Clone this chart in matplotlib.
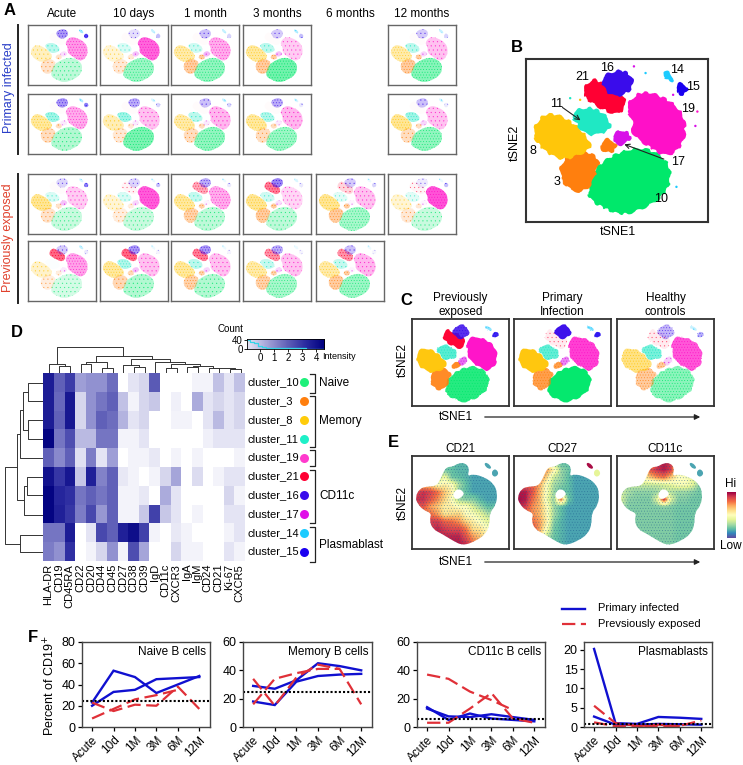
import numpy as np
import matplotlib
matplotlib.use('Agg')
import matplotlib.pyplot as plt
from matplotlib.colors import LinearSegmentedColormap, to_rgb
from matplotlib.patches import PathPatch
from matplotlib.path import Path

plt.rcParams['font.family'] = ['Liberation Sans', 'DejaVu Sans']
plt.rcParams['font.size'] = 8
plt.rcParams['hatch.linewidth'] = 0.3

W, H = 743, 765

# tSNE map (cluster outlines)
cluster_ids = ['10', '3', '8', '11', '19', '21', '16', '17', '14', '15']
cluster_colors = ['#00E86B', '#FF7F0E', '#FFC60A', '#1FE8C4', '#FF10C8',
                  '#FF0033', '#3A0CEB', '#D810E8', '#1CCBFF', '#1A00F0']
outlines = {
    '10': [(352, 475), (372, 415), (420, 380), (470, 358), (530, 352), (595, 390), (606, 445),
           (585, 495), (530, 532), (455, 558), (395, 530), (358, 510)],
    '3': [(265, 425), (280, 385), (330, 355), (392, 385), (380, 420), (365, 465), (330, 490), (285, 472)],
    '3b': [(385, 345), (415, 320), (445, 345), (428, 370), (398, 365)],
    '8': [(185, 305), (210, 258), (250, 248), (305, 275), (345, 310), (368, 352), (335, 372),
          (280, 392), (232, 372), (200, 340)],
    '11': [(298, 248), (355, 228), (405, 250), (428, 292), (398, 312), (350, 318), (320, 285)],
    '19': [(462, 232), (510, 180), (575, 198), (628, 232), (650, 280), (642, 345), (592, 385),
           (535, 350), (482, 312), (490, 270)],
    '21': [(332, 188), (365, 142), (395, 160), (445, 180), (475, 220), (445, 258), (400, 240), (355, 215)],
    '16': [(390, 145), (430, 122), (470, 122), (495, 155), (475, 192), (430, 202), (402, 178)],
    '17': [(420, 322), (450, 298), (475, 305), (488, 328), (445, 352)],
    '14': [(572, 130), (590, 120), (620, 150), (598, 158)],
    '15': [(612, 178), (635, 152), (660, 178), (635, 202)],
}
silhouette = [(185, 305), (210, 258), (250, 248), (305, 245), (330, 205), (345, 170), (365, 145),
              (395, 145), (430, 125), (470, 125), (492, 155), (480, 195), (510, 182), (575, 198),
              (628, 232), (650, 280), (642, 345), (605, 385), (606, 445), (585, 495), (530, 532),
              (455, 558), (395, 530), (335, 495), (285, 472), (265, 425), (278, 388), (232, 372),
              (200, 340)]
centre_gap = [(405, 275), (430, 258), (462, 278), (455, 298), (420, 318), (398, 300)]
stray_x = [683, 677, 492, 527, 610, 330, 300, 620]
stray_y = [245, 288, 110, 130, 195, 210, 205, 470]
stray_c = ['#FF10C8', '#D810E8', '#D810E8', '#1CCBFF', '#D810E8', '#FFC60A', '#1FE8C4', '#1CCBFF']

# panel A, how dense each cluster looks in each small map (order of cluster_ids)
a_col_titles = ['Acute', '10 days', '1 month', '3 months', '6 months', '12 months']
a_abundance = {
    (0, 0): [.30, .25, .30, .35, .50, .02, .50, .15, .50, .90],
    (0, 1): [.45, .20, .20, .20, .75, .02, .15, .30, .30, .30],
    (0, 2): [.50, .45, .40, .25, .40, .02, .30, .35, .30, .20],
    (0, 3): [.65, .45, .45, .35, .25, .02, .25, .30, .40, .30],
    (0, 5): [.55, .45, .40, .35, .30, .02, .25, .20, .30, .20],
    (1, 0): [.35, .30, .45, .50, .40, .02, .50, .10, .40, .60],
    (1, 1): [.60, .20, .35, .50, .30, .02, .40, .10, .20, .20],
    (1, 2): [.50, .30, .40, .35, .35, .02, .30, .10, .30, .20],
    (1, 3): [.45, .30, .45, .40, .35, .02, .40, .10, .20, .10],
    (1, 5): [.50, .30, .50, .50, .30, .02, .30, .20, .20, .10],
    (2, 0): [.25, .25, .50, .20, .25, .02, .20, .30, .20, .60],
    (2, 1): [.25, .15, .20, .20, .80, .05, .20, .20, .10, .30],
    (2, 2): [.30, .40, .45, .30, .40, .40, .40, .05, .10, .10],
    (2, 3): [.30, .45, .50, .25, .20, .60, .60, .15, .20, .10],
    (2, 4): [.40, .45, .50, .15, .30, .20, .25, .05, .10, .20],
    (2, 5): [.25, .20, .20, .15, .85, .05, .10, .05, .10, .30],
    (3, 0): [.20, .15, .25, .02, .45, .70, .25, .10, .30, .10],
    (3, 1): [.35, .35, .45, .40, .30, .70, .50, .30, .10, .05],
    (3, 2): [.35, .40, .45, .35, .30, .60, .50, .20, .10, .05],
    (3, 3): [.40, .40, .40, .30, .30, .50, .40, .20, .10, .05],
    (3, 4): [.45, .45, .40, .30, .35, .50, .30, .05, .10, .05],
}
c_titles = ['Previously\nexposed', 'Primary\nInfection', 'Healthy\ncontrols']
c_abundance = [[.85, .90, .98, .75, .98, .98, .85, .60, .50, .85],
               [.98, .75, .98, .70, .80, .08, .98, .50, .60, .90],
               [.45, .40, .50, .60, .70, .08, .30, .20, .25, .30]]

# panel D
markers = ['HLA-DR', 'CD19', 'CD45RA', 'CD22', 'CD20', 'CD44', 'CD45', 'CD27', 'CD38', 'CD39',
           'IgD', 'CD11c', 'CXCR3', 'IgA', 'IgM', 'CD24', 'CD21', 'Ki-67', 'CXCR5']
heat_rows = ['cluster_10', 'cluster_3', 'cluster_8', 'cluster_11', 'cluster_19',
             'cluster_21', 'cluster_16', 'cluster_17', 'cluster_14', 'cluster_15']
heat_dots = ['#1EF07A', '#FF7F0E', '#FFCC0A', '#1EF0C8', '#FF3ACD',
             '#FF0033', '#3A0CEB', '#E010E8', '#1CCBFF', '#1A00F0']
heat_vals = np.array([
    [3.9, 2.7, 3.3, 1.8, 2.0, 2.0, 2.5, 0, 0.7, 1.0, 2.8, 0, 0, 0, 0.3, 0.3, 1.3, 0.7, 1.3],
    [3.9, 2.6, 4.0, 1.0, 2.0, 2.4, 2.7, 1.3, 0.3, 1.0, 1.2, 0, 0.4, 0, 1.6, 0.7, 1.0, 0.7, 1.0],
    [3.9, 2.7, 4.0, 1.0, 2.0, 2.7, 2.5, 1.5, 0.7, 1.0, 0, 0, 0.3, 0.3, 0, 0.7, 1.4, 0.7, 1.0],
    [4.4, 2.4, 3.0, 1.4, 1.4, 2.4, 2.4, 0.3, 0.3, 0.7, 0, 0, 0, 0, 0, 0.4, 0.7, 0.7, 0.7],
    [2.7, 2.1, 2.7, 0.8, 2.3, 0.7, 1.8, 0, 0.3, 0.3, 0.6, 0, 0.3, 0, 0.3, 0, 0, 0, 0.3],
    [4.1, 3.4, 4.0, 1.2, 3.8, 2.2, 2.7, 0.6, 0.3, 0, 0.3, 1.0, 1.7, 0, 0.9, 0, 0.3, 0.7, 0.7],
    [4.4, 3.7, 3.5, 2.4, 2.7, 2.4, 2.7, 0.3, 0.3, 0.6, 0, 1.6, 0.7, 0, 0, 0, 0, 1.0, 0.3],
    [4.4, 3.8, 3.4, 2.3, 3.1, 1.9, 2.7, 0.3, 0.3, 1.2, 3.2, 1.2, 0.7, 0, 0.3, 0, 0, 0.7, 0.7],
    [2.4, 2.4, 3.9, 0, 0.7, 3.1, 2.7, 3.8, 4.2, 3.2, 0.3, 0, 0.6, 0.3, 0, 0, 0, 0.3, 0.7],
    [2.3, 2.0, 3.5, 0, 0.3, 1.0, 2.0, 0.3, 3.0, 1.7, 0, 0, 1.0, 0.3, 0.3, 0, 0, 0.7, 0.3],
])
key_x = [-0.9, -0.6, -0.3, 0, 0.3, 0.6, 1, 1.5, 2, 2.5, 3, 3.5, 4, 4.5]
key_count = [40, 30, 25, 15, 8, 5, 4, 3, 3, 5, 3, 2, 1, 0]
# dendrogram links, (xs, ys)
top_links = [
    ([178, 178, 210, 210], [158, 140, 140, 158]), ([146, 146, 194, 194], [158, 133, 133, 140]),
    ([242, 242, 274, 274], [158, 133, 133, 158]), ([306, 306, 338, 338], [158, 145, 145, 158]),
    ([258, 258, 322, 322], [133, 127, 127, 145]), ([170, 170, 370, 370], [133, 80, 80, 107]),
    ([289, 289, 455, 455], [127, 107, 107, 118]), ([402, 402, 434, 434], [158, 143, 143, 158]),
    ([370, 370, 418, 418], [158, 135, 135, 143]), ([392, 392, 510, 510], [135, 118, 118, 127]),
    ([466, 466, 555, 555], [158, 127, 127, 133]), ([498, 498, 530, 530], [158, 145, 145, 158]),
    ([514, 514, 600, 600], [145, 133, 133, 140]), ([562, 562, 594, 594], [158, 142, 142, 158]),
    ([578, 578, 640, 640], [142, 140, 140, 144]), ([626, 626, 658, 658], [158, 146, 146, 158]),
    ([642, 642, 706, 706], [146, 144, 144, 149]), ([690, 690, 722, 722], [158, 149, 149, 158]),
]
left_links = [
    ([130, 85, 85, 130], [189, 189, 245, 245]), ([130, 85, 85, 130], [300, 300, 358, 358]),
    ([85, 70, 70, 85], [217, 217, 330, 330]), ([70, 60, 60, 130], [272, 272, 413, 413]),
    ([130, 82, 82, 130], [470, 470, 526, 526]), ([82, 72, 72, 130], [498, 498, 583, 583]),
    ([60, 50, 50, 72], [342, 342, 540, 540]), ([130, 60, 60, 130], [645, 645, 695, 695]),
    ([50, 14, 14, 60], [441, 441, 670, 670]),
]
bracket_labels = ['Naive', 'Memory', '', 'CD11c', 'Plasmablast']
bracket_spans = [(162, 218), (228, 380), (390, 438), (450, 608), (622, 725)]

# panel E, marker level on a coarse grid over the map (0 low, 1 high)
grid_x = [190, 230, 270, 310, 350, 390, 430, 470, 510, 550, 590, 630]
grid_y = [130, 168, 206, 244, 282, 320, 358, 396, 434, 472, 510, 548]
cd21_grid = np.array([
    [.20, .20, .20, .20, .22, .20, .18, .18, .15, .15, .15, .15],
    [.30, .30, .30, .30, .22, .20, .18, .18, .15, .15, .15, .15],
    [.50, .50, .45, .30, .45, .22, .20, .18, .15, .15, .15, .15],
    [.65, .65, .62, .50, .55, .50, .30, .20, .15, .15, .15, .15],
    [.88, .92, .88, .80, .65, .55, .25, .20, .15, .15, .15, .15],
    [.92, .92, .85, .75, .62, .50, .30, .25, .25, .18, .15, .15],
    [.85, .85, .72, .65, .55, .55, .50, .50, .38, .28, .20, .20],
    [.60, .75, .80, .72, .58, .60, .62, .50, .48, .42, .32, .28],
    [.60, .78, .90, .90, .82, .80, .74, .62, .55, .48, .42, .36],
    [.70, .82, .90, .94, .90, .87, .87, .78, .60, .58, .50, .45],
    [.70, .82, .90, .94, .94, .94, .94, .85, .72, .65, .55, .45],
    [.80, .82, .90, .94, .94, .96, .96, .92, .80, .70, .55, .45],
])
cd27_grid = np.array([
    [.20, .20, .20, .20, .55, .30, .20, .20, .15, .15, .15, .15],
    [.60, .60, .60, .65, .72, .55, .28, .22, .15, .15, .15, .15],
    [.70, .70, .72, .78, .62, .35, .28, .20, .15, .15, .15, .15],
    [.80, .82, .82, .70, .48, .30, .25, .20, .15, .15, .15, .15],
    [.96, .96, .85, .68, .48, .28, .20, .20, .15, .15, .15, .15],
    [.98, .96, .80, .68, .45, .28, .80, .22, .15, .15, .15, .15],
    [.96, .90, .75, .68, .52, .28, .20, .15, .15, .15, .15, .15],
    [.70, .80, .75, .68, .52, .30, .20, .15, .15, .15, .15, .15],
    [.60, .70, .80, .72, .55, .25, .18, .15, .15, .15, .15, .15],
    [.60, .70, .85, .72, .48, .22, .18, .15, .15, .15, .15, .15],
    [.60, .70, .92, .65, .35, .22, .18, .15, .15, .15, .15, .15],
    [.20, .20, .20, .20, .20, .20, .18, .15, .15, .15, .15, .15],
])
cd11c_grid = np.array([
    [.25, .25, .25, .25, .60, .90, .96, .90, .30, .22, .22, .22],
    [.30, .30, .30, .40, .85, .92, .96, .90, .50, .28, .22, .22],
    [.30, .30, .30, .50, .65, .75, .80, .65, .50, .50, .42, .25],
    [.32, .32, .36, .36, .36, .36, .38, .42, .48, .48, .42, .25],
    [.36, .30, .26, .26, .26, .28, .34, .32, .28, .28, .25, .22],
    [.38, .26, .25, .24, .24, .40, .92, .40, .25, .25, .22, .22],
    [.32, .24, .24, .24, .24, .24, .26, .24, .22, .22, .22, .22],
    [.26, .24, .24, .24, .24, .24, .24, .24, .22, .22, .22, .22],
    [.24, .24, .24, .24, .24, .24, .24, .24, .22, .22, .22, .22],
    [.24, .24, .24, .24, .24, .24, .24, .24, .22, .22, .22, .22],
    [.24, .24, .24, .24, .24, .24, .24, .24, .22, .22, .22, .22],
    [.24, .24, .24, .24, .24, .24, .24, .24, .22, .22, .22, .22],
])
e_titles = ['CD21', 'CD27', 'CD11c']
e_small = [(.15, .15), (.98, .40), (.15, .15)]  # clusters 14 and 15 in each marker

# panel F
timepoints = ['Acute', '10d', '1M', '3M', '6M', '12M']
nan = float('nan')
f_titles = ['Naive B cells', 'Memory B cells', 'CD11c B cells', 'Plasmablasts']
f_ymax = [80, 60, 60, 22]
f_yticks = [[0, 20, 40, 60, 80], [0, 20, 40, 60], [0, 20, 40, 60], [0, 5, 10, 15, 20]]
f_healthy = [24.5, 24.5, 5.5, 0.7]
f_primary = [
    [[20, 33, 35, 45, 46, 47], [23, 53, 47, 32, 40, 48]],
    [[29, 27, 33, 45, 43, 40], [18, 15.5, 32, 36, 37, 37.5]],
    [[14, 5, 9.5, 6, 5, 4], [13, 7.5, 7, 9, 7, 5]],
    [[20.2, 1, 0.8, 2.6, 2.4, 2.1], [2.7, 0.6, 0.6, 0.8, 0.7, 0.6]],
]
f_exposed = [
    [[8, 17, 26, 30, 35, nan], [23, 15, 21, 20, 38, 17]],
    [[34, 15, 35, 44, 41, 16], [16, 34, 38, 41, 41, nan]],
    [[37, 34, 25, 19, 12, nan], [3, 3, 13, 24, 6, 3]],
    [[5.5, 1, 0.3, 0.2, 0.3, 1.7], [1.2, 0.2, 0.2, 0.6, 0.2, nan]],
]

fig = plt.figure(figsize=(W / 100, H / 100), dpi=100)


def px_ax(x0, y0, x1, y1):
    return fig.add_axes([x0 / W, 1 - y1 / H, (x1 - x0) / W, (y1 - y0) / H])


def map_ax(box, edge='#555555', lw=1.3):
    ax = px_ax(*box)
    ax.set_xlim(167, 715)
    ax.set_ylim(575, 88)
    ax.set_xticks([])
    ax.set_yticks([])
    for s in ax.spines.values():
        s.set_color(edge)
        s.set_linewidth(lw)
    return ax


def round_path(pts):
    # closed outline with the corners rounded off
    pts = np.array(pts, dtype=float)
    mids = (pts + np.roll(pts, -1, axis=0)) / 2
    verts = [mids[-1]]
    codes = [Path.MOVETO]
    for p, m in zip(pts, mids):
        verts += [p, m]
        codes += [Path.CURVE3, Path.CURVE3]
    return Path(verts, codes)


def draw_clusters(ax, abundance, rough=0):
    for cid, col, a in zip(cluster_ids, cluster_colors, abundance):
        names = [cid, '3b'] if cid == '3' else [cid]
        rgb = np.array(to_rgb(col))
        for name in names:
            # pale wash for the average colour, fine stipple on top for the grain
            p = PathPatch(round_path(outlines[name]), facecolor=(*rgb, a), edgecolor='none')
            if rough:
                p.set_sketch_params(rough, 12, 3)
            ax.add_patch(p)
            if 0.03 < a < 0.9:
                ax.add_patch(PathPatch(round_path(outlines[name]), facecolor='none',
                                       edgecolor=(*rgb, min(1, a + 0.45)), lw=0,
                                       hatch='.' * (4 if a < 0.3 else 6)))


# panel A
a_cols = [(28, 96), (100, 168), (171, 239), (243, 311), (316, 384), (388, 456)]
a_rows = [(25, 85), (94, 154), (174, 234), (241, 301)]
for (r, c), ab in a_abundance.items():
    x0, x1 = a_cols[c]
    y0, y1 = a_rows[r]
    ax = map_ax((x0, y0, x1, y1), edge='#666666', lw=1.0)
    draw_clusters(ax, [v * 0.85 for v in ab])

# panel B
ax_b = map_ax((526, 59, 708, 222), edge='#333333', lw=1.5)
draw_clusters(ax_b, [1] * len(cluster_ids), rough=1.2)
ax_b.scatter(stray_x, stray_y, s=3, c=stray_c, linewidths=0)
for lab, lx, ly in [('16', 412, 116), ('21', 338, 142), ('14', 622, 120), ('15', 670, 172), ('19', 655, 236),
                    ('11', 258, 222), ('8', 187, 363), ('3', 260, 455), ('17', 625, 395), ('10', 575, 507)]:
    ax_b.text(lx, ly, lab, fontsize=9, ha='center', va='center')
ax_b.annotate('', xy=(338, 276), xytext=(270, 228), arrowprops=dict(arrowstyle='->', lw=0.8, color='#222222'))
ax_b.annotate('', xy=(455, 340), xytext=(590, 390), arrowprops=dict(arrowstyle='->', lw=0.8, color='#222222'))

# panels C and E
three_x = [(412, 509), (514, 611), (617, 714)]
for (x0, x1), ab in zip(three_x, c_abundance):
    ax = map_ax((x0, 319, x1, 406), edge='#333333', lw=1.3)
    draw_clusters(ax, ab, rough=0.8)

spectral = plt.get_cmap('Spectral_r')
for (x0, x1), grid, small in zip(three_x, [cd21_grid, cd27_grid, cd11c_grid], e_small):
    ax = map_ax((x0, 456, x1, 549), edge='#333333', lw=1.3)
    im = ax.imshow(grid, cmap=spectral, vmin=0, vmax=1, interpolation='bilinear', aspect='auto',
                   extent=[grid_x[0] - 20, grid_x[-1] + 20, grid_y[-1] + 19, grid_y[0] - 19])
    clip = PathPatch(round_path(silhouette), transform=ax.transData)
    im.set_clip_path(clip)
    ax.set_xlim(167, 715)
    ax.set_ylim(575, 88)
    # grain over the smooth grid
    ax.add_patch(PathPatch(round_path(silhouette), facecolor='none', edgecolor=(0.1, 0.35, 0.55, 0.55), lw=0,
                           hatch='.' * 6))
    ax.add_patch(PathPatch(round_path(centre_gap), facecolor='white', edgecolor='none'))
    for name, v in zip(['14', '15'], small):
        ax.add_patch(PathPatch(round_path(outlines[name]), facecolor=spectral(v), edgecolor='none'))

ax_cb = px_ax(727, 492, 736, 538)
ax_cb.imshow(np.linspace(1, 0, 64).reshape(-1, 1), cmap='Spectral_r', aspect='auto')
ax_cb.axis('off')

# panel D
heat_cmap = LinearSegmentedColormap.from_list(
    'bluepurple', ['#FFFFFF', '#DCDCF0', '#9E9ED6', '#6060B8', '#2A2AA0', '#00007F'])
ax_h = px_ax(43.3, 373, 245, 561)
ax_h.pcolormesh(heat_vals[::-1], cmap=heat_cmap, vmin=0, vmax=4.5)
ax_h.set_xticks(np.arange(len(markers)) + 0.5)
ax_h.set_xticklabels(markers, rotation=90, fontsize=8)
ax_h.set_yticks([])
ax_h.tick_params(length=0, pad=2)
for s in ax_h.spines.values():
    s.set_visible(False)

ax_top = px_ax(43.3, 346, 245, 373)
ax_top.set_xlim(130, 735)
ax_top.set_ylim(160, 78)
ax_top.axis('off')
for xs, ys in top_links:
    ax_top.plot(xs, ys, color='#333333', lw=0.7)
ax_left = px_ax(3.3, 373, 43.3, 561)
ax_left.set_xlim(10, 130)
ax_left.set_ylim(722, 160)
ax_left.axis('off')
for xs, ys in left_links:
    ax_left.plot(xs, ys, color='#333333', lw=0.7)

ax_key = px_ax(247, 339, 324, 349)
ax_key.imshow(np.linspace(0, 4.5, 64).reshape(1, -1), cmap=heat_cmap, aspect='auto',
              extent=[-0.93, 4.57, 0, 44], vmin=-0.9, vmax=4.5)
ax_key.step(key_x, key_count, where='mid', color='#35D5E8', lw=0.9)
ax_key.set_xlim(-0.93, 4.57)
ax_key.set_ylim(0, 44)
ax_key.set_xticks([0, 1, 2, 3, 4])
ax_key.set_yticks([0, 40])
ax_key.tick_params(labelsize=7, length=2, width=0.6, pad=1)
for s in ax_key.spines.values():
    s.set_linewidth(0.6)

# panel F
f_boxes = [(82, 642, 210, 727), (243, 642, 372, 727), (417, 642, 545, 727), (584, 642, 712, 727)]
for i, box in enumerate(f_boxes):
    ax = px_ax(*box)
    for s in f_primary[i]:
        ax.plot(s, color='#1010D0', lw=1.7, solid_joinstyle='miter')
    for s in f_exposed[i]:
        ax.plot(s, color='#E03038', lw=1.6, dashes=(6, 2.5))
    ax.axhline(f_healthy[i], color='black', lw=1.5, ls=(0, (1, 1)))
    ax.set_xlim(-0.47, 5.5)
    ax.set_ylim(0, f_ymax[i])
    ax.set_xticks(range(6))
    ax.set_xticklabels(timepoints, rotation=45, ha='right', rotation_mode='anchor', fontsize=8.5)
    ax.set_yticks(f_yticks[i])
    ax.tick_params(axis='y', labelsize=9, length=3, width=0.9, pad=1.5)
    ax.tick_params(axis='x', length=3, width=0.9, pad=2)
    for s in ax.spines.values():
        s.set_color('#444444')
        s.set_linewidth(1.0)
    ax.text(0.97, 0.88, f_titles[i], transform=ax.transAxes, ha='right', va='center', fontsize=8.5)

# overlay in figure pixels for labels, rules and brackets
ov = fig.add_axes([0, 0, 1, 1], zorder=10)
ov.set_xlim(0, W)
ov.set_ylim(H, 0)
ov.axis('off')
ov.patch.set_alpha(0)

for lab, lx, ly in [('A', 10, 10), ('B', 517, 47), ('C', 406, 300), ('D', 17, 332), ('E', 393, 442), ('F', 33, 637)]:
    ov.text(lx, ly, lab, fontsize=12, fontweight='bold', ha='center', va='center')
for title, (x0, x1) in zip(a_col_titles, a_cols):
    ov.text((x0 + x1) / 2, 14, title, fontsize=8.5, ha='center', va='center')
ov.plot([18, 18], [25, 154], color='#222222', lw=1.4)
ov.plot([18, 18], [174, 303], color='#222222', lw=1.4)
ov.text(9, 88, 'Primary infected', color='#2A3FC8', fontsize=9, rotation=90, ha='center', va='center')
ov.text(8, 238, 'Previously exposed', color='#E0402C', fontsize=9, rotation=90, ha='center', va='center')
ov.text(618, 232, 'tSNE1', fontsize=9, ha='center', va='center')
ov.text(515, 143, 'tSNE2', fontsize=9, rotation=90, ha='center', va='center')

for title, (x0, x1) in zip(c_titles, three_x):
    ov.text((x0 + x1) / 2, 305, title, fontsize=8.5, ha='center', va='center', linespacing=1.15)
for title, (x0, x1) in zip(e_titles, three_x):
    ov.text((x0 + x1) / 2, 449, title, fontsize=8.5, ha='center', va='center')
for ya, yt in [(417, 360), (562, 503)]:
    ov.text(456, ya, 'tSNE1', fontsize=8.5, ha='center', va='center')
    ov.text(403, yt, 'tSNE2', fontsize=8.5, rotation=90, ha='center', va='center')
    ov.annotate('', xy=(703, ya), xytext=(482, ya), arrowprops=dict(arrowstyle='-|>', lw=0.9, color='#222222'))
ov.text(731, 484, 'Hi', fontsize=8.5, ha='center', va='center')
ov.text(731, 546, 'Low', fontsize=8.5, ha='center', va='center')

ov.text(230, 329, 'Count', fontsize=7, ha='center', va='center')
ov.text(322, 356, 'Intensity', fontsize=6.5, ha='left', va='center')
row_h = (561 - 373) / 10
for k, (name, col) in enumerate(zip(heat_rows, heat_dots)):
    yc = 373 + row_h * (k + 0.5)
    ov.text(248, yc, name, fontsize=8, ha='left', va='center')
    ov.scatter([304], [yc], s=42, color=col, linewidths=0)
for lab, (z0, z1) in zip(bracket_labels, bracket_spans):
    y0 = 320 + z0 / 3
    y1 = 320 + z1 / 3
    ov.plot([310, 315, 315, 310], [y0, y0, y1, y1], color='#222222', lw=0.9)
    ov.text(319, (y0 + y1) / 2, lab, fontsize=8.5, ha='left', va='center')

ov.text(50, 686, 'Percent of CD19$^{+}$', fontsize=9, rotation=90, ha='center', va='center')
ov.plot([562, 585], [609, 609], color='#1010D0', lw=1.7)
ov.plot([562, 586], [624, 624], color='#E03038', lw=1.6, dashes=(6, 2.5))
ov.text(598, 608, 'Primary infected', fontsize=8, ha='left', va='center')
ov.text(598, 624, 'Prevsiously exposed', fontsize=8, ha='left', va='center')

fig.savefig('out.png', dpi=100)
